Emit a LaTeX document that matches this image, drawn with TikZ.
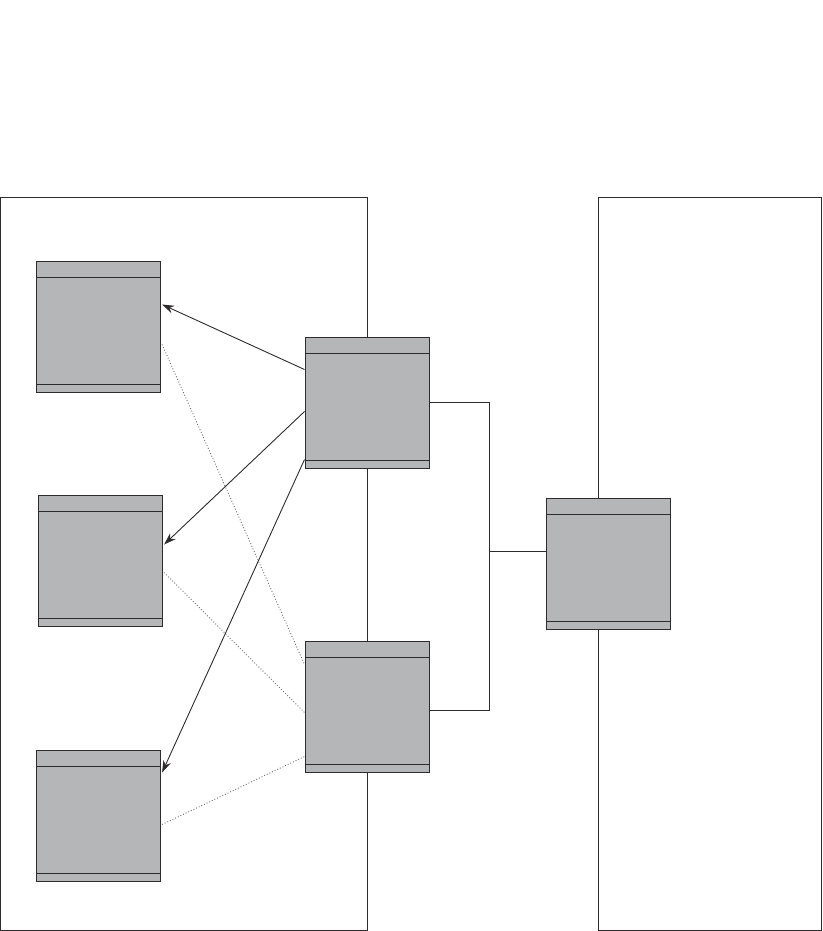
\documentclass[tikz,border=0pt]{standalone}
\usetikzlibrary{arrows.meta,calc}
\definecolor{boxfill}{HTML}{B5B6B8}
\definecolor{ink}{HTML}{2E2B2C}
\newcommand\umlbox[3]{%
  \node[cls] (#1) at (#2,#3) {};
  \draw[sep] ([yshift=-17pt]#1.north west) -- ([yshift=-17pt]#1.north east);
  \draw[sep] ([yshift=9pt]#1.south west) -- ([yshift=9pt]#1.south east);}
\begin{document}
\begin{tikzpicture}[x=1pt,y=-1pt,
  cls/.style={draw=ink,fill=boxfill,line width=1.6pt,minimum width=124pt,minimum height=131pt,inner sep=0pt,anchor=north west},
  sep/.style={draw=ink,line width=1pt},
  frame/.style={draw=ink,line width=1pt},
  wire/.style={draw=ink,line width=0.9pt},
  assoc/.style={draw=ink,line width=0.9pt,-{Stealth[length=12pt,width=8pt]}},
  dep/.style={draw=ink!70,line width=0.9pt,dotted}]
\useasboundingbox (0,0) rectangle (822,931);
% containers
\draw[frame] (0.5,197) rectangle (367,930);
\draw[frame] (598,197) rectangle (821,930);
% boxes
\umlbox{A}{35.5}{260.5}
\umlbox{B}{37.5}{494.5}
\umlbox{C}{35.5}{749.5}
\umlbox{D}{304.5}{336.5}
\umlbox{E}{304.5}{640.5}
\umlbox{F}{545.5}{497.5}
% connection points
\coordinate (d1) at ($(D.north west)+(0,33)$);
\coordinate (d2) at ($(D.north west)+(0,75)$);
\coordinate (d3) at ($(D.north west)+(0,123)$);
\coordinate (a1) at ($(A.north east)+(1,44)$);
\coordinate (b1) at ($(B.north east)+(1,50)$);
\coordinate (c1) at ($(C.north east)+(1,23)$);
\coordinate (a2) at ($(A.north east)+(1,84)$);
\coordinate (b2) at ($(B.north east)+(1,78)$);
\coordinate (c2) at ($(C.north east)+(1,75)$);
\coordinate (e1) at ($(E.north west)+(0,24)$);
\coordinate (e2) at ($(E.north west)+(0,72)$);
\coordinate (e3) at ($(E.north west)+(0,116)$);
\coordinate (dr) at ($(D.north east)+(0,66)$);
\coordinate (er) at ($(E.north east)+(0,70)$);
\coordinate (fl) at ($(F.north west)+(0,54)$);
\coordinate (jx) at (489,0);
% associations
\draw[assoc] (d1) -- (a1);
\draw[assoc] (d2) -- (b1);
\draw[assoc] (d3) -- (c1);
% dependencies
\draw[dep] (a2) -- (e1);
\draw[dep] (b2) -- (e2);
\draw[dep] (c2) -- (e3);
% wiring
\draw[wire] (dr) -- (dr -| jx) -- (er -| jx) -- (er);
\draw[wire] (fl -| jx) -- (fl);
\end{tikzpicture}
\end{document}
